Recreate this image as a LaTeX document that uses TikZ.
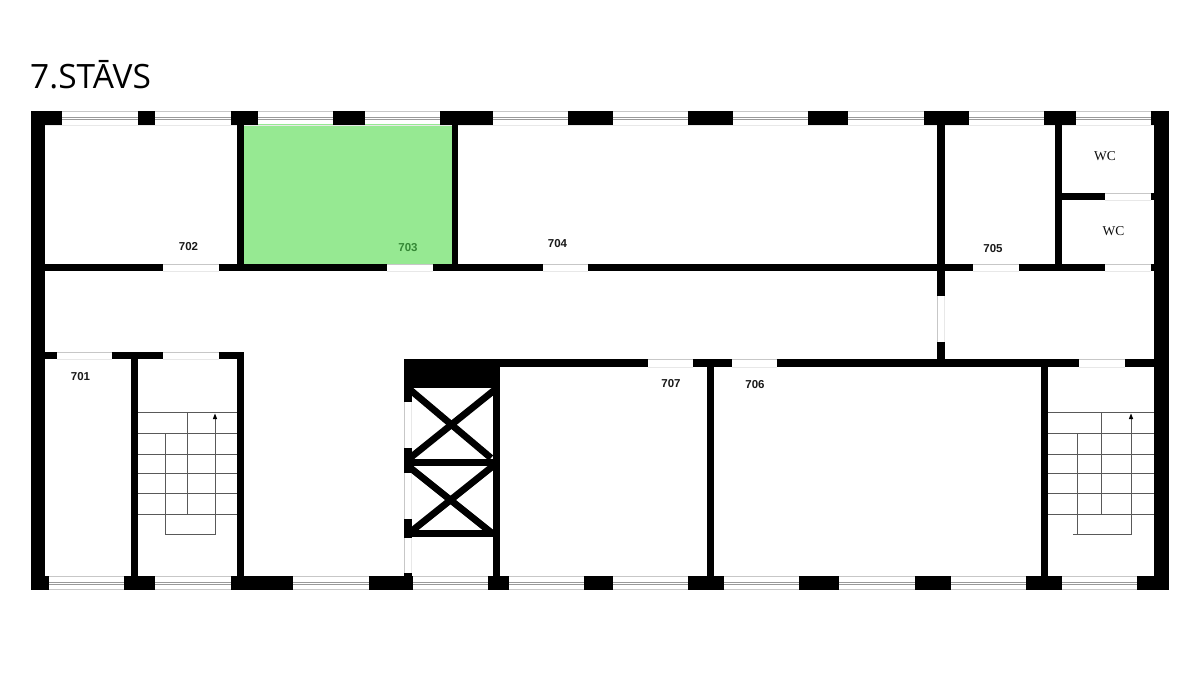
\documentclass[tikz,border=0pt]{standalone}
\usepackage{fontspec}
\setmainfont{Liberation Sans}
\newfontfamily\titlefont{Open Sans}
\newfontfamily\wcfont{Liberation Serif}
\definecolor{roomgreen}{RGB}{150,233,146}
\definecolor{labelgreen}{RGB}{52,135,52}
\tikzset{
  wall/.style={fill=black,draw=none},
  glassedge/.style={draw=black!22,line width=0.9pt},
  glassmid/.style={draw=black!40,line width=0.9pt},
  glassfaint/.style={draw=black!9,line width=1pt},
  stair/.style={draw=black!65,line width=1pt},
  xbrace/.style={draw=black,line width=6.8pt},
  roomlabel/.style={font=\bfseries\fontsize{11.5}{13}\selectfont,text=black!90,inner sep=0pt},
  wclabel/.style={font=\wcfont\fontsize{13.5}{15}\selectfont,text=black!95,inner sep=0pt},
  titlelabel/.style={font=\titlefont\fontsize{33.5}{38}\selectfont,text=black,inner sep=0pt,anchor=base west}
}
\newcommand{\wallseg}[4]{\fill[wall] (#1,#2) rectangle (#3,#4);}
\newcommand{\dooredge}[4]{\draw[glassedge] (#1,#2) -- (#3,#2);\draw[glassfaint] (#1,#4) -- (#3,#4);}
\begin{document}
\begin{tikzpicture}[x=1pt,y=-1pt]
\useasboundingbox (0,0) rectangle (1200,683);
\fill[white] (0,0) rectangle (1200,683);
% green room
\fill[roomgreen] (244,124) rectangle (451.5,264);
% window bands
\draw[glassedge] (31,111.5) -- (1169,111.5);
\draw[glassmid] (31,117.5) -- (1169,117.5);
\draw[glassmid] (31,119.5) -- (1169,119.5);
\draw[glassfaint] (31,125) -- (1169,125);
\draw[glassedge] (31,576.5) -- (1169,576.5);
\draw[glassmid] (31,582) -- (1169,582);
\draw[glassmid] (31,584) -- (1169,584);
\draw[glassedge] (31,589.5) -- (1169,589.5);
% outer walls
\wallseg{31}{111}{45}{590}
\wallseg{1154}{111}{1169}{590}
% top piers
\foreach \a/\b in {31/62,138/155,231/258,333/365,440/493,568/613,688/733,808/848,924/969,1044/1076,1151/1169}
  {\wallseg{\a}{111}{\b}{125}}
% bottom piers
\foreach \a/\b in {31/49,124/155,231/293,369/413,488/509,584/613,688/724,799/839,915/951,1026/1062,1137/1169}
  {\wallseg{\a}{576}{\b}{590}}
% door edges
\foreach \a/\b in {163/219,387/433,543/588,973/1019,1105/1151}
  {\dooredge{\a}{264.5}{\b}{271}}
\dooredge{1105}{193.5}{1151}{200}
\foreach \a/\b in {648/693,732/777,1079/1125}
  {\dooredge{\a}{359.5}{\b}{367}}
\foreach \a/\b in {57/112,163/219}
  {\dooredge{\a}{352.5}{\b}{359}}
% upper corridor wall
\foreach \a/\b in {45/163,219/387,433/543,588/973,1019/1105,1151/1154}
  {\wallseg{\a}{264}{\b}{271}}
% upper partitions
\wallseg{237}{125}{244}{264}
\wallseg{451.5}{125}{458}{264}
\wallseg{937}{125}{945}{264}
\wallseg{1055}{125}{1062}{264}
\wallseg{1062}{193}{1105}{200}
\wallseg{1151}{193}{1154}{200}
% corridor end partition with door
\wallseg{937}{271}{945}{296}
\wallseg{937}{342}{945}{359}
\draw[glassedge] (937.5,296) -- (937.5,342);
\draw[glassfaint] (944.5,296) -- (944.5,342);
% lower corridor wall
\foreach \a/\b in {495/648,693/732,777/1079,1125/1154}
  {\wallseg{\a}{359}{\b}{367}}
% lower-left walls
\foreach \a/\b in {45/57,112/163,219/244}
  {\wallseg{\a}{352}{\b}{359}}
\wallseg{131}{359}{138}{576}
\wallseg{237}{359}{244}{576}
% lower partitions
\wallseg{707}{367}{714}{576}
\wallseg{1041}{367}{1048}{576}
% lift shaft
\wallseg{404}{359}{495}{388}
\wallseg{493}{369}{500}{576}
\wallseg{495}{367}{500}{388}
\foreach \a/\b in {388/402,448/473,519/538,573/576}
  {\wallseg{404}{\a}{411.5}{\b}}
\draw[glassedge] (404.5,402) -- (404.5,448);
\draw[glassedge] (404.5,473) -- (404.5,519);
\draw[glassedge] (404.5,538) -- (404.5,573);
\draw[glassfaint] (411,402) -- (411,448);
\draw[glassfaint] (411,473) -- (411,519);
\draw[glassfaint] (411,538) -- (411,573);
\wallseg{411}{459}{493}{466}
\wallseg{411}{530}{493}{537}
\begin{scope}
\clip (408,385) rectangle (500,540);
\draw[xbrace] (408,388) -- (491,458);
\draw[xbrace] (497,388) -- (410,458);
\draw[xbrace] (408,466) -- (493,534);
\draw[xbrace] (493,466) -- (408,534);
\end{scope}
% left stairs
\foreach \yy in {412,433,454,473,493,514}
  {\draw[stair] (138,\yy) -- (237,\yy);}
\draw[stair] (187,412) -- (187,514);
\draw[stair] (165,433) -- (165,534) -- (215,534) -- (215,417);
\fill[black] (215,413.5) -- (217.2,419) -- (212.8,419) -- cycle;
% right stairs
\foreach \yy in {412,433,454,473,493,514}
  {\draw[stair] (1048,\yy) -- (1154,\yy);}
\draw[stair] (1101.5,412) -- (1101.5,514);
\draw[stair] (1077.5,433) -- (1077.5,534) -- (1131,534) -- (1131,417);
\draw[stair] (1073,534) -- (1077.5,534);
\fill[black] (1131,413.5) -- (1133.2,419) -- (1128.8,419) -- cycle;
% labels
\node[titlelabel] (title) at (30,88) {7.STĀVS};
\node[roomlabel] (r701) at (80.5,376.5) {701};
\node[roomlabel] (r702) at (188.5,247) {702};
\node[roomlabel,text=labelgreen] (r703) at (408,248) {703};
\node[roomlabel] (r704) at (557.5,244) {704};
\node[roomlabel] (r705) at (993,248.5) {705};
\node[roomlabel] (r706) at (755,384.5) {706};
\node[roomlabel] (r707) at (671,384) {707};
\node[wclabel] (wca) at (1105,156.5) {WC};
\node[wclabel] (wcb) at (1113.5,231.5) {WC};
\end{tikzpicture}
\end{document}
